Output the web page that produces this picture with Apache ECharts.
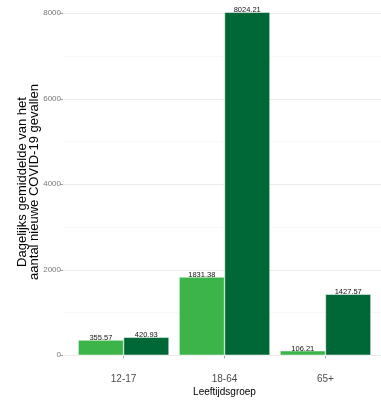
<!DOCTYPE html>
<html>
<head>
<meta charset="utf-8">
<script src="https://cdn.jsdelivr.net/npm/echarts@6/dist/echarts.min.js"></script>
<style>html,body{margin:0;padding:0;background:#fff}#c{width:381px;height:400px}</style>
</head>
<body>
<div id="c"></div>
<script>
var categories = ['12-17', '18-64', '65+'];
var seriesA = [355.57, 1831.38, 106.21];
var seriesB = [420.93, 8024.21, 1427.57];
var yTicks = [0, 2000, 4000, 6000, 8000];
var yMinor = [1000, 3000, 5000, 7000];

var FONT = '"Liberation Sans", Arial, sans-serif';
function toXY(arr) { return arr.map(function (v, i) { return [i + 1, v]; }); }
var xPos = categories.map(function (c, i) { return i + 1; });

var chart = echarts.init(document.getElementById('c'), null, { renderer: 'canvas' });
var labelOpt = {
  show: true, position: 'top', distance: -2,
  fontFamily: FONT, fontSize: 7.5, color: '#111',
  formatter: function (p) { return p.value[1].toFixed(2); }
};
chart.setOption({
  animation: false,
  backgroundColor: '#fff',
  grid: { left: 63, right: 0, top: 0, bottom: 28 },
  xAxis: {
    type: 'value', min: 0.4, max: 3.55,
    axisLine: { show: false },
    splitLine: { show: false },
    axisTick: { show: true, length: 3, customValues: xPos, lineStyle: { color: '#666', width: 0.6 } },
    axisLabel: {
      customValues: xPos, margin: 2, fontFamily: FONT, fontSize: 10, color: '#4d4d4d',
      formatter: function (v) { return categories[Math.round(v) - 1] || ''; }
    }
  },
  yAxis: {
    type: 'value', min: -391, max: 8311,
    axisLine: { show: false },
    splitLine: { show: false },
    axisTick: { show: true, length: 3, customValues: yTicks, lineStyle: { color: '#666', width: 0.6 } },
    axisLabel: { customValues: yTicks, margin: 2, fontFamily: FONT, fontSize: 8, color: '#777',
      formatter: function (v) { return String(v); } }
  },
  graphic: [
    { type: 'text', x: 28.5, y: 182, rotation: Math.PI / 2,
      style: { text: 'Dagelijks gemiddelde van het\naantal nieuwe COVID-19 gevallen',
        font: '13px ' + FONT, fill: '#000', align: 'center', verticalAlign: 'middle', lineHeight: 12.5 } },
    { type: 'text', x: 224.5, y: 392,
      style: { text: 'Leeftijdsgroep', font: '10px ' + FONT, fill: '#000', align: 'center', verticalAlign: 'middle' } }
  ],
  series: [
    { type: 'line', data: [], z: 1, silent: true,
      markLine: { silent: true, symbol: 'none', z: 1, label: { show: false },
        data: yTicks.map(function (v) { return { yAxis: v, lineStyle: { color: '#ebebeb', width: 1, type: 'solid' } }; })
          .concat(yMinor.map(function (v) { return { yAxis: v, lineStyle: { color: '#f4f4f4', width: 0.6, type: 'solid' } }; })) } },
    { type: 'bar', name: 'A', data: toXY(seriesA), z: 2, barGap: '0%', barCategoryGap: '10%',
      itemStyle: { color: '#3cb44a', borderColor: '#fff', borderWidth: 0.5 }, label: labelOpt },
    { type: 'bar', name: 'B', data: toXY(seriesB), z: 2, barGap: '0%', barCategoryGap: '10%',
      itemStyle: { color: '#006837', borderColor: '#fff', borderWidth: 0.5 }, label: labelOpt }
  ]
});
</script>
</body>
</html>
